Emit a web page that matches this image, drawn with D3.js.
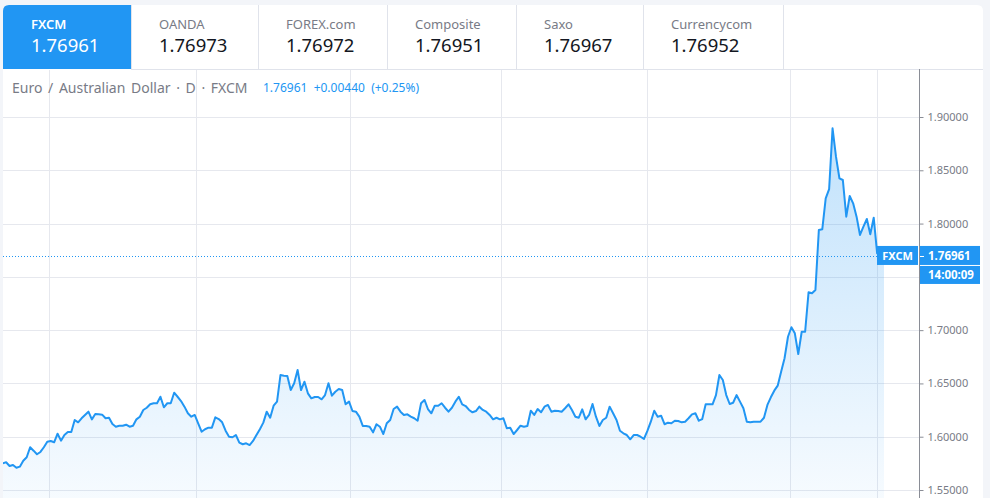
<!DOCTYPE html>
<html>
<head>
<meta charset="utf-8">
<script src="https://cdn.jsdelivr.net/npm/d3@7"></script>
<style>
  html, body { margin: 0; padding: 0; background: #f3f5f9; }
  svg { display: block; }
  text { font-family: "Noto Sans", "Open Sans", sans-serif; }
</style>
</head>
<body>
<svg id="chart" width="990" height="498"></svg>
<script>
// ---------------- DATA ----------------
const tabNames  = ["FXCM", "OANDA", "FOREX.com", "Composite", "Saxo", "Currencycom"];
const tabValues = ["1.76961", "1.76973", "1.76972", "1.76951", "1.76967", "1.76952"];

const titleText  = "Euro / Australian Dollar · D · FXCM";
const quoteText  = "1.76961  +0.00440  (+0.25%)";

const yTicks = [1.55, 1.60, 1.65, 1.70, 1.75, 1.80, 1.85, 1.90];
// vertical time-grid positions, in bar index units
const timeGridBars = [13.5, 56.4, 101.3, 145.3, 188, 229.6, 255];

const lastLabel  = "FXCM";
const lastPrice  = 1.76961;
const countdown  = "14:00:09";

// daily closes, EUR/AUD (FXCM)
const closes = [
  1.5751, 1.5760, 1.5725, 1.5735, 1.5709, 1.5719, 1.5775, 1.5807, 1.5901, 1.5869,
  1.5835, 1.5857, 1.5901, 1.5953, 1.5960, 1.5948, 1.6028, 1.5963, 1.6016, 1.6044,
  1.6044, 1.6157, 1.6135, 1.6173, 1.6204, 1.6235, 1.6163, 1.6213, 1.6210, 1.6207,
  1.6173, 1.6178, 1.6119, 1.6094, 1.6103, 1.6103, 1.6113, 1.6094, 1.6103, 1.6163,
  1.6188, 1.6251, 1.6272, 1.6304, 1.6314, 1.6314, 1.6375, 1.6276, 1.6314, 1.6314,
  1.6413, 1.6375, 1.6335, 1.6282, 1.6220, 1.6188, 1.6204, 1.6126, 1.6047, 1.6070,
  1.6085, 1.6085, 1.6182, 1.6166, 1.6135, 1.6056, 1.6000, 1.5995, 1.6016, 1.5944,
  1.5929, 1.5938, 1.5922, 1.5960, 1.6016, 1.6070, 1.6132, 1.6235, 1.6178, 1.6291,
  1.6329, 1.6579, 1.6573, 1.6570, 1.6438, 1.6501, 1.6626, 1.6438, 1.6516, 1.6407,
  1.6360, 1.6373, 1.6373, 1.6351, 1.6391, 1.6501, 1.6385, 1.6422, 1.6448, 1.6438,
  1.6304, 1.6329, 1.6241, 1.6235, 1.6188, 1.6101, 1.6101, 1.6094, 1.6041, 1.6117,
  1.6094, 1.6025, 1.6126, 1.6157, 1.6260, 1.6282, 1.6235, 1.6204, 1.6210, 1.6188,
  1.6173, 1.6150, 1.6314, 1.6345, 1.6260, 1.6220, 1.6291, 1.6291, 1.6314, 1.6272,
  1.6235, 1.6272, 1.6329, 1.6375, 1.6304, 1.6288, 1.6251, 1.6229, 1.6241, 1.6282,
  1.6251, 1.6235, 1.6204, 1.6163, 1.6178, 1.6163, 1.6173, 1.6079, 1.6085, 1.6025,
  1.6063, 1.6103, 1.6094, 1.6101, 1.6244, 1.6204, 1.6260, 1.6229, 1.6282, 1.6298,
  1.6235, 1.6244, 1.6241, 1.6235, 1.6267, 1.6304, 1.6251, 1.6188, 1.6178, 1.6257,
  1.6163, 1.6204, 1.6307, 1.6188, 1.6101, 1.6157, 1.6178, 1.6282, 1.6220, 1.6157,
  1.6056, 1.6032, 1.6016, 1.5976, 1.6016, 1.6016, 1.6000, 1.5979, 1.6054, 1.6141,
  1.6244, 1.6188, 1.6197, 1.6117, 1.6132, 1.6126, 1.6150, 1.6147, 1.6135, 1.6141,
  1.6173, 1.6210, 1.6220, 1.6150, 1.6166, 1.6304, 1.6304, 1.6304, 1.6391, 1.6579,
  1.6532, 1.6391, 1.6307, 1.6319, 1.6391, 1.6329, 1.6267, 1.6141, 1.6135, 1.6141,
  1.6141, 1.6141, 1.6178, 1.6298, 1.6370, 1.6432, 1.6479, 1.6610, 1.6736, 1.6938,
  1.7027, 1.6970, 1.6776, 1.6985, 1.6985, 1.7355, 1.7346, 1.7377, 1.7940, 1.7946,
  1.8237, 1.8324, 1.8894, 1.8628, 1.8425, 1.8409, 1.8065, 1.8259, 1.8190, 1.8065,
  1.7893, 1.7971, 1.8043, 1.7899, 1.8055, 1.7721, 1.7705, 1.76961
];

// ---------------- LAYOUT ----------------
const W = 990, H = 498;
const card = { x: 3, y: 5, r: 6 };
const tabBottom = 69;
const tabEdges = [3, 131, 258, 387, 516, 643, 783];
const plot = { left: 3, right: 919, top: tabBottom, bottom: H };
const BLUE = "#2196f3";
const GRID = "#e6e8ee";
const TEXT_GRAY = "#787b86";

const svg = d3.select("#chart");
const defs = svg.append("defs");

// card
svg.append("path")
  .attr("d", `M${card.x},${H + 10} V${card.y + card.r} Q${card.x},${card.y} ${card.x + card.r},${card.y}
              H${983 - card.r} Q983,${card.y} 983,${card.y + card.r} V${H + 10} Z`)
  .attr("fill", "#ffffff");

// ---------------- TABS ----------------
const tabs = svg.append("g");
tabs.append("path")
  .attr("d", `M${tabEdges[0]},${tabBottom} V${card.y + card.r} Q${tabEdges[0]},${card.y} ${tabEdges[0] + card.r},${card.y}
              H${tabEdges[1]} V${tabBottom} Z`)
  .attr("fill", BLUE);

tabs.selectAll("line.sep").data(tabEdges.slice(1)).join("line")
  .attr("class", "sep")
  .attr("x1", d => d + 0.5).attr("x2", d => d + 0.5)
  .attr("y1", card.y).attr("y2", tabBottom)
  .attr("stroke", "#e0e3eb");

tabs.append("line")
  .attr("x1", tabEdges[1]).attr("x2", 983)
  .attr("y1", tabBottom + 0.5).attr("y2", tabBottom + 0.5)
  .attr("stroke", "#e0e3eb");

tabNames.forEach((name, i) => {
  const x0 = tabEdges[i] + 28;
  tabs.append("text")
    .attr("x", x0).attr("y", 29)
    .attr("font-size", 13)
    .attr("fill", i === 0 ? "#ffffff" : TEXT_GRAY)
    .attr("font-weight", i === 0 ? 600 : 400)
    .text(name);
  tabs.append("text")
    .attr("x", x0).attr("y", 52)
    .attr("font-size", 18.5)
    .attr("fill", i === 0 ? "#ffffff" : "#131722")
    .text(tabValues[i]);
});

// ---------------- SCALES ----------------
const x = d3.scaleLinear().domain([0, closes.length - 1]).range([2.7, 884]);
const y = d3.scaleLinear().domain([1.55, 1.90]).range([490, 117]);

// clip for plot
defs.append("clipPath").attr("id", "plotClip")
  .append("rect")
  .attr("x", plot.left).attr("y", plot.top + 1)
  .attr("width", plot.right - plot.left).attr("height", plot.bottom - plot.top);

const pane = svg.append("g").attr("clip-path", "url(#plotClip)");

// grid
pane.selectAll("line.hgrid").data(yTicks).join("line")
  .attr("class", "hgrid")
  .attr("x1", plot.left).attr("x2", plot.right)
  .attr("y1", d => Math.round(y(d)) + 0.5).attr("y2", d => Math.round(y(d)) + 0.5)
  .attr("stroke", GRID);

pane.selectAll("line.vgrid").data(timeGridBars).join("line")
  .attr("class", "vgrid")
  .attr("x1", d => Math.round(x(d)) + 0.5).attr("x2", d => Math.round(x(d)) + 0.5)
  .attr("y1", plot.top).attr("y2", plot.bottom)
  .attr("stroke", GRID);

// area gradient
const grad = defs.append("linearGradient").attr("id", "areaGrad")
  .attr("gradientUnits", "userSpaceOnUse")
  .attr("x1", 0).attr("x2", 0)
  .attr("y1", y(d3.max(closes))).attr("y2", H);
grad.append("stop").attr("offset", 0).attr("stop-color", BLUE).attr("stop-opacity", 0.28);
grad.append("stop").attr("offset", 1).attr("stop-color", BLUE).attr("stop-opacity", 0.04);

const area = d3.area()
  .x((d, i) => x(i))
  .y0(H)
  .y1(d => y(d));

pane.append("path").datum(closes)
  .attr("d", area)
  .attr("fill", "url(#areaGrad)");

const line = d3.line()
  .x((d, i) => x(i))
  .y(d => y(d));

pane.append("path").datum(closes)
  .attr("d", line)
  .attr("fill", "none")
  .attr("stroke", BLUE)
  .attr("stroke-width", 2)
  .attr("stroke-linejoin", "round");

// last price dotted line
pane.append("line")
  .attr("x1", plot.left).attr("x2", 877)
  .attr("y1", Math.round(y(lastPrice)) + 0.5).attr("y2", Math.round(y(lastPrice)) + 0.5)
  .attr("stroke", BLUE)
  .attr("stroke-dasharray", "1,2");

// ---------------- HEADER ----------------
svg.append("text")
  .attr("x", 12).attr("y", 93)
  .attr("font-size", 14)
  .attr("word-spacing", 2)
  .attr("fill", TEXT_GRAY)
  .text(titleText);

svg.append("text")
  .attr("x", 263).attr("y", 92)
  .attr("font-size", 12)
  .attr("fill", BLUE)
  .style("white-space", "pre")
  .text(quoteText);

// ---------------- PRICE AXIS ----------------
const ly = y(lastPrice);
const boxTop = ly - 10, boxBottom = ly + 28;

const axisG = svg.append("g").attr("transform", `translate(${plot.right + 0.5},0)`);
const axis = d3.axisRight(y)
  .tickValues(yTicks)
  .tickFormat(d3.format(".5f"))
  .tickSize(4)
  .tickPadding(4);
axisG.call(axis);
axisG.select(".domain").attr("stroke", "#8a8d96")
  .attr("d", `M0,${plot.top}V${H}`);
axisG.selectAll(".tick line").attr("stroke", "#8a8d96");
axisG.selectAll(".tick text")
  .attr("fill", TEXT_GRAY)
  .attr("font-size", 11)
  .attr("font-family", "Noto Sans, Open Sans, sans-serif");
// labels hidden under the last-value boxes (as in the original)
axisG.selectAll(".tick")
  .filter(d => y(d) > boxTop - 6 && y(d) < boxBottom + 6)
  .select("text").remove();

// ---------------- LAST VALUE LABELS ----------------
const lab = svg.append("g");
lab.append("rect")
  .attr("x", 877).attr("y", ly - 10).attr("width", 41).attr("height", 19)
  .attr("fill", BLUE);
lab.append("text")
  .attr("x", 897.5).attr("y", ly + 4)
  .attr("text-anchor", "middle")
  .attr("font-size", 11).attr("font-weight", 700)
  .attr("fill", "#ffffff")
  .text(lastLabel);

lab.append("rect")
  .attr("x", plot.right + 1).attr("y", ly - 10).attr("width", 60).attr("height", 19)
  .attr("fill", BLUE);
lab.append("line")
  .attr("x1", plot.right + 1).attr("x2", plot.right + 5)
  .attr("y1", Math.round(ly) + 0.5).attr("y2", Math.round(ly) + 0.5)
  .attr("stroke", "#ffffff");
lab.append("text")
  .attr("x", plot.right + 9).attr("y", ly + 4)
  .attr("font-size", 11.5).attr("font-weight", 700)
  .attr("fill", "#ffffff")
  .text(d3.format(".5f")(lastPrice));

lab.append("rect")
  .attr("x", plot.right + 1).attr("y", ly + 10).attr("width", 60).attr("height", 18)
  .attr("fill", BLUE);
lab.append("text")
  .attr("x", plot.right + 9).attr("y", ly + 23.5)
  .attr("font-size", 11.5).attr("font-weight", 700)
  .attr("fill", "#ffffff")
  .text(countdown);
</script>
</body>
</html>
